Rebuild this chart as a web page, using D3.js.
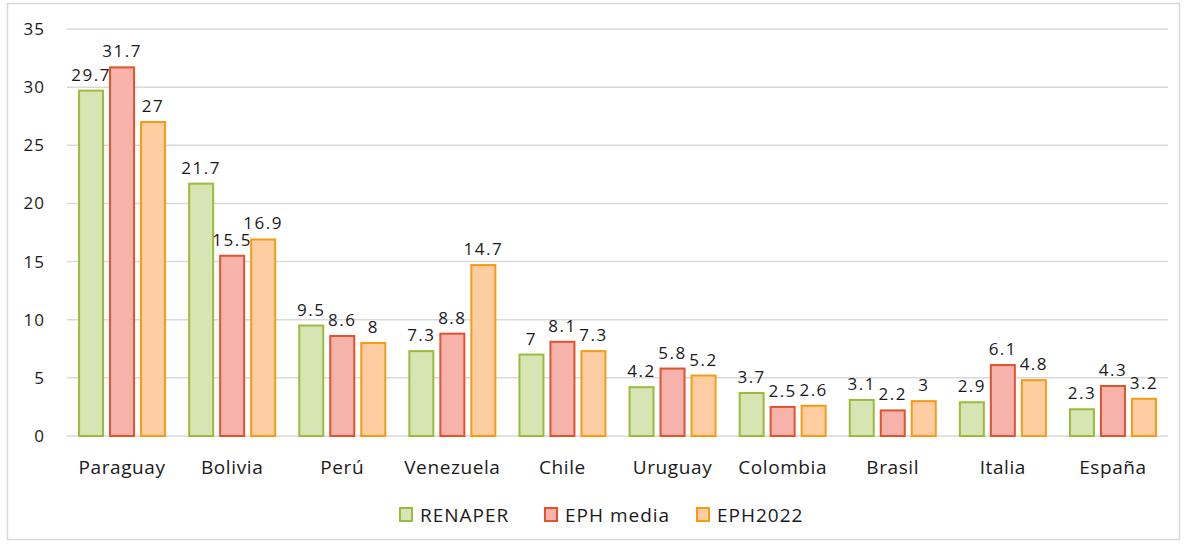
<!DOCTYPE html>
<html>
<head>
<meta charset="utf-8">
<script src="https://cdn.jsdelivr.net/npm/d3@7"></script>
<style>
body { margin:0; background:#fff; }
text { font-family: "Open Sans", "Noto Sans", sans-serif; fill:#1a1a1a; }
</style>
</head>
<body>
<div id="chart"></div>
<script>
// data
var categories = ["Paraguay","Bolivia","Perú","Venezuela","Chile","Uruguay","Colombia","Brasil","Italia","España"];
var seriesNames = ["RENAPER","EPH media","EPH2022"];
var renaper = [29.7,21.7,9.5,7.3,7,4.2,3.7,3.1,2.9,2.3];
var ephMedia = [31.7,15.5,8.6,8.8,8.1,5.8,2.5,2.2,6.1,4.3];
var eph2022 = [27,16.9,8,14.7,7.3,5.2,2.6,3,4.8,3.2];
var yTicks = [0,5,10,15,20,25,30,35];

var fills = ["#d7e4b4","#f5b3ac","#fecda2"];
var strokes = ["#9bbb3b","#e0532d","#f89b14"];

var W = 1186, H = 544;
var margin = {top:29, right:18, bottom:108, left:67},
width = W - margin.left - margin.right,
height = H - margin.top - margin.bottom;

var svg = d3.select("#chart").append("svg")
    .attr("width", W).attr("height", H);

// outer frame
svg.append("rect")
    .attr("x", 7.5).attr("y", 3.5)
    .attr("width", 1172).attr("height", 536)
    .attr("fill", "none").attr("stroke", "#d9d9d9").attr("stroke-width", 1.5);

var g = svg.append("g").attr("transform", "translate(" + margin.left + "," + margin.top + ")");

var x = d3.scaleBand().domain(categories).range([0, width]);
var y = d3.scaleLinear().domain([0,35]).range([height, 0]);

// gridlines
g.selectAll(".grid").data(yTicks).enter().append("line")
    .attr("x1", 0).attr("x2", width)
    .attr("y1", function(d){ return y(d); }).attr("y2", function(d){ return y(d); })
    .attr("stroke", "#d9d9d9").attr("stroke-width", 1.5);

// y labels
g.selectAll(".ylab").data(yTicks).enter().append("text")
    .attr("x", -22).attr("y", function(d){ return y(d); })
    .attr("dy", "0.35em").attr("text-anchor", "end")
    .style("font-size", "17px").style("letter-spacing", "1px")
    .text(function(d){ return d; });

var series = [renaper, ephMedia, eph2022];
var barW = 24, step = 31;

series.forEach(function(vals, s) {
    var off = (s - 1) * step;
    var grp = g.append("g");
    grp.selectAll("rect").data(vals).enter().append("rect")
        .attr("x", function(d,i){ return x(categories[i]) + x.bandwidth()/2 + off - barW/2; })
        .attr("y", function(d){ return y(d); })
        .attr("width", barW)
        .attr("height", function(d){ return height - y(d); })
        .attr("fill", fills[s]).attr("stroke", strokes[s]).attr("stroke-width", 2);
    grp.selectAll("text").data(vals).enter().append("text")
        .attr("x", function(d,i){ return x(categories[i]) + x.bandwidth()/2 + off; })
        .attr("y", function(d){ return y(d) - 10; })
        .attr("text-anchor", "middle")
        .style("font-size", "17px").style("letter-spacing", "1.5px")
        .text(function(d){ return d; });
});

// x labels
g.selectAll(".xlab").data(categories).enter().append("text")
    .attr("x", function(d){ return x(d) + x.bandwidth()/2; })
    .attr("y", height + 38)
    .attr("text-anchor", "middle")
    .style("font-size", "19px").style("letter-spacing", "0.6px")
    .text(function(d){ return d; });

// legend
var legX = [400, 545, 697];
var leg = svg.append("g");
seriesNames.forEach(function(n, s) {
    leg.append("rect")
        .attr("x", legX[s]).attr("y", 508)
        .attr("width", 12).attr("height", 13)
        .attr("fill", fills[s]).attr("stroke", strokes[s]).attr("stroke-width", 2);
    leg.append("text")
        .attr("x", legX[s] + 20).attr("y", 515)
        .attr("dy", "0.35em")
        .style("font-size", "19px").style("letter-spacing", "1px")
        .text(n);
});
</script>
</body>
</html>
